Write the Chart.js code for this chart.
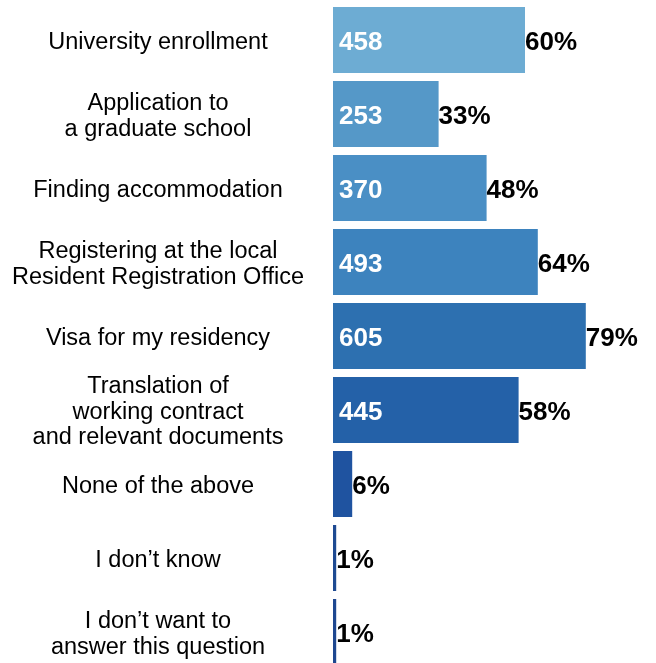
<!DOCTYPE html>
<html>
<head>
<meta charset="utf-8">
<script src="https://cdn.jsdelivr.net/npm/chart.js@4"></script>
<style>
  html, body { margin: 0; padding: 0; background: #fff; overflow: hidden; }
  #wrap { width: 656px; height: 672px; }
</style>
</head>
<body>
<div id="wrap"><canvas id="grafico"></canvas></div>
<script>
// === DADOS ===
const categorias = [
  'University enrollment',
  ['Application to', 'a graduate school'],
  'Finding accommodation',
  ['Registering at the local', 'Resident Registration Office'],
  'Visa for my residency',
  ['Translation of', 'working contract', 'and relevant documents'],
  'None of the above',
  'I don\u2019t know',
  ['I don\u2019t want to', 'answer this question']
];
const percentuais = [60, 33, 48, 64, 79, 58, 6, 1, 1];
const respostas = [458, 253, 370, 493, 605, 445, null, null, null];
const cores = ['#6DACD3', '#5598C8', '#4A8FC5', '#3D83BE', '#2D70B0', '#2461A8', '#1F53A0', '#1E4A92', '#1E4790'];

const fonte = '"Liberation Sans", Arial, sans-serif';

// desenha os rótulos das categorias e os valores nas barras
const rotulos = {
  id: 'rotulos',
  afterDatasetsDraw(chart) {
    const ctx = chart.ctx;
    const escalaY = chart.scales.y;
    const meta = chart.getDatasetMeta(0);
    ctx.save();
    ctx.textBaseline = 'middle';

    categorias.forEach((cat, i) => {
      const y = escalaY.getPixelForValue(i);
      const linhas = Array.isArray(cat) ? cat : [cat];
      const alt = 25.5;
      ctx.font = '23.5px ' + fonte;
      ctx.fillStyle = '#000';
      ctx.textAlign = 'center';
      linhas.forEach((l, j) => {
        ctx.fillText(l, 158, y + (j - (linhas.length - 1) / 2) * alt + 2.5);
      });

      const barra = meta.data[i];
      ctx.font = 'bold 26px ' + fonte;
      ctx.textAlign = 'left';
      if (respostas[i] !== null) {
        ctx.fillStyle = '#fff';
        ctx.fillText(respostas[i], barra.base + 6, y + 3);
      }
      ctx.fillStyle = '#000';
      ctx.fillText(percentuais[i] + '%', barra.x, y + 3);
    });
    ctx.restore();
  }
};

new Chart(document.getElementById('grafico'), {
  type: 'bar',
  data: {
    labels: categorias,
    datasets: [{
      data: percentuais,
      backgroundColor: cores,
      borderWidth: 0,
      barPercentage: 66 / 74,
      categoryPercentage: 1
    }]
  },
  options: {
    indexAxis: 'y',
    responsive: true,
    maintainAspectRatio: false,
    animation: false,
    layout: { padding: { left: 333, right: 3, top: 3, bottom: 3 } },
    plugins: {
      legend: { display: false },
      tooltip: { enabled: false }
    },
    scales: {
      x: { display: false, min: 0, max: 100 },
      y: { display: false }
    }
  },
  plugins: [rotulos]
});
</script>
</body>
</html>
